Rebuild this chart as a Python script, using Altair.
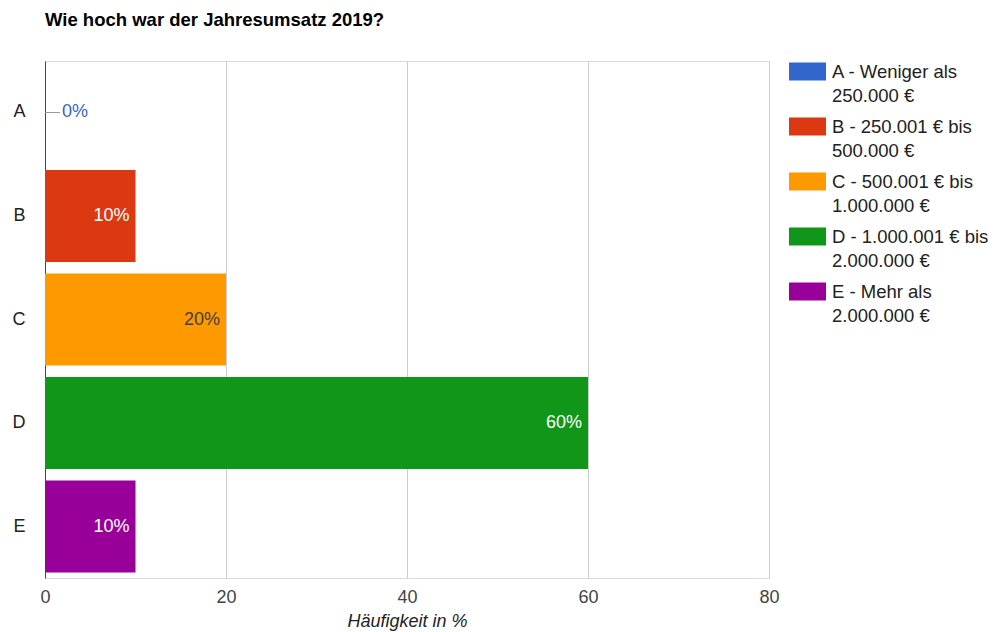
import altair as alt
import pandas as pd

categories = ["A", "B", "C", "D", "E"]
values = [0, 10, 20, 60, 10]
legend_labels = [
    "A - Weniger als|250.000 €",
    "B - 250.001 € bis|500.000 €",
    "C - 500.001 € bis|1.000.000 €",
    "D - 1.000.001 € bis|2.000.000 €",
    "E - Mehr als|2.000.000 €",
]
x_ticks = [0, 20, 40, 60, 80]
bar_colors = ["#3366cc", "#dc3912", "#ff9900", "#109618", "#990099"]

df = pd.DataFrame({"cat": categories, "value": values, "legend": legend_labels})

FONT = "Liberation Sans"

y_enc = alt.Y(
    "cat:N",
    sort=categories,
    scale=alt.Scale(paddingInner=0.111, paddingOuter=0.053),
    axis=alt.Axis(
        title=None, ticks=False, domain=True, domainColor="#444", domainWidth=1,
        labelFontSize=18, labelColor="#222", labelPadding=20, labelFont=FONT,
        grid=False,
    ),
)
x_enc = alt.X(
    "value:Q",
    scale=alt.Scale(domain=[0, 80], nice=False),
    axis=alt.Axis(
        values=x_ticks, title="Häufigkeit in %", titleFontStyle="italic",
        titleFontWeight="normal", titleFontSize=18, titleColor="#222", titleFont=FONT,
        labelFontSize=18, labelColor="#444", labelFont=FONT, labelPadding=10,
        labelFlush=False,
        titlePadding=6, ticks=False, domain=False, grid=True, gridColor="#cccccc",
    ),
)

sym_path = "M-1,-0.486H1V0.486H-1Z"

bars = alt.Chart(df).mark_bar().encode(
    y=y_enc,
    x=x_enc,
    color=alt.Color(
        "legend:N",
        sort=legend_labels,
        scale=alt.Scale(domain=legend_labels, range=bar_colors),
        legend=alt.Legend(
            title=None, orient="none", legendX=744, legendY=-8,
            symbolType=sym_path, symbolSize=1369, symbolStrokeWidth=0,
            symbolOpacity=1,
            labelExpr="split(datum.label, '|')", labelFontSize=18.5,
            labelColor="#222", labelFont=FONT, labelOffset=6, labelLimit=300,
            labelBaseline="middle",
            rowPadding=3, padding=0,
        ),
    ),
)

inside = alt.Chart(df).transform_filter("datum.value > 0").transform_calculate(
    lbl="datum.value + '%'"
).mark_text(align="right", dx=-6, fontSize=18, font=FONT).encode(
    y=alt.Y("cat:N", sort=categories),
    x="value:Q",
    text="lbl:N",
    color=alt.condition("datum.cat === 'C'", alt.value("#404040"), alt.value("white")),
)

outside = alt.Chart(df).transform_filter("datum.value == 0").transform_calculate(
    lbl="datum.value + '%'"
).mark_text(align="left", dx=17, fontSize=18, font=FONT, color="#3366cc").encode(
    y=alt.Y("cat:N", sort=categories),
    x="value:Q",
    text="lbl:N",
)

leader = alt.Chart(df).transform_filter("datum.value == 0").mark_rule(
    color="#999", x2Offset=15, strokeWidth=1
).encode(
    y=alt.Y("cat:N", sort=categories),
    x="value:Q",
    x2="value:Q",
)

chart = alt.layer(bars, leader, outside, inside).properties(
    width=724,
    height=517,
    padding={"left": 45, "top": 61, "right": 232, "bottom": 54},
    autosize=alt.AutoSizeParams(type="none"),
    title=alt.TitleParams(
        "Wie hoch war der Jahresumsatz 2019?", anchor="start", frame="group",
        fontSize=18.5, fontWeight="bold", color="#000", font=FONT, offset=24,
    ),
).configure_view(stroke=None).configure(
    style={"guide-label": {"lineHeight": 24}}
)

chart.save("out.html", embed_options={"renderer": "svg", "actions": False})
